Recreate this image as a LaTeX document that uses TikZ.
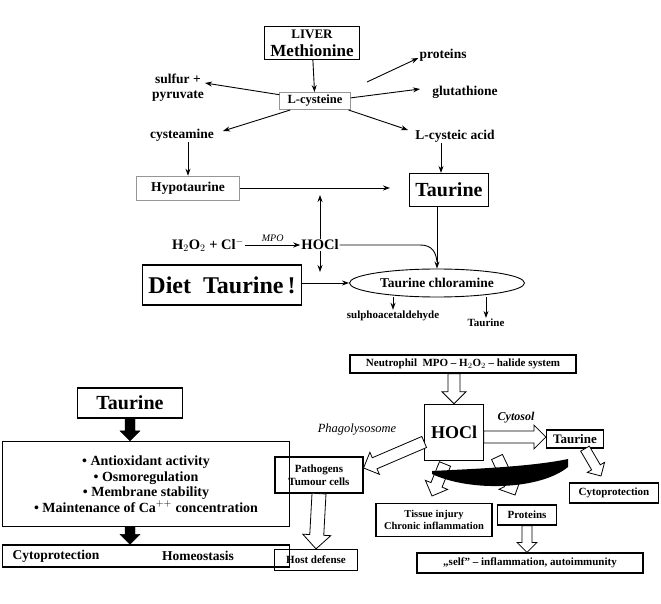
\documentclass[tikz,border=0pt]{standalone}
\usepackage{fontspec}
\setmainfont{Liberation Serif}
\usetikzlibrary{calc,shapes.geometric,arrows.meta}

\definecolor{boxgray}{RGB}{150,150,150}

\tikzset{
  lbl/.style={font=\bfseries\fontsize{13.5}{15}\selectfont, align=center, inner sep=1pt},
  small/.style={font=\bfseries\fontsize{11}{12.5}\selectfont},
  thinbox/.style={lbl, draw, line width=0.6pt, inner xsep=6pt, inner ysep=3pt},
  thickbox/.style={lbl, draw, line width=1.2pt, inner xsep=6pt, inner ysep=3pt},
  graybox/.style={lbl, draw=boxgray, line width=0.6pt, inner xsep=8pt, inner ysep=3pt},
  flow/.style={-{Stealth[length=7pt,width=5pt]}, line width=0.9pt},
  hollow/.style={draw, fill=white, line width=0.8pt},
  solid arrow/.style={draw, fill=black}
}

% block arrow from #3 to #4, shaft half-width #2
\newcommand\blockarrow[4][hollow]{%
  \path[#1] let \p1=($(#4)-(#3)$), \n1={atan2(\y1,\x1)}, \n2={veclen(\x1,\y1)} in
    {[shift={(#3)}, rotate=\n1] (0,-#2) -- (\n2-2*#2,-#2) -- (\n2-2*#2,-2*#2) -- (\n2,0)
      -- (\n2-2*#2,2*#2) -- (\n2-2*#2,#2) -- (0,#2) -- cycle};
}

\begin{document}
\begin{tikzpicture}[x=1pt,y=-1pt]
  \useasboundingbox (0,0) rectangle (661,604);

  % liver pathway
  \node[thickbox, font=\bfseries\fontsize{17}{18}\selectfont] (met) at (312,43) {{\fontsize{13}{14}\selectfont LIVER}\\Methionine};
  \node[graybox, font=\bfseries\fontsize{12.5}{14}\selectfont] (cys) at (315,101) {L-cysteine};
  \node[lbl] (prot) at (443,55) {proteins};
  \node[lbl] (glut) at (465,92) {glutathione};
  \node[lbl] (cysac) at (455,136) {L-cysteic acid};
  \node[lbl] (sulf) at (178,88) {sulfur +\\pyruvate};
  \node[lbl] (cysam) at (182,135) {cysteamine};
  \node[graybox, minimum width=103pt, minimum height=24pt] (hypo) at (188,188) {Hypotaurine};
  \node[thickbox, font=\bfseries\fontsize{20}{22}\selectfont, minimum width=78pt, minimum height=33pt] (tau) at (449,190) {Taurine};

  \draw[flow] (met) -- (cys);
  \draw[flow] (cys.170) -- (sulf.east |- 0,83);
  \draw[flow] (cys.200) -- (223,131);
  \draw[flow] (367,82) -- (prot.west |- 0,58);
  \draw[flow] (cys.5) -- (420,89);
  \draw[flow] (cys.345) -- (408,130);
  \draw[flow] (cysam.south -| hypo) -- (hypo);
  \draw[flow] (cysac.south -| 441,0) -- (tau.north -| 441,0);
  \draw[flow] (hypo) -- (390,188);

  % HOCl and chloramine
  \node[lbl, font=\bfseries\fontsize{14.5}{16}\selectfont] (hocl) at (320,245) {HOCl};
  \node[lbl, font=\bfseries\fontsize{14.5}{16}\selectfont] (h2o2) at (208,245) {H$_2$O$_2$ + Cl$^{-}$};
  \node[thickbox, font=\bfseries\fontsize{24}{26}\selectfont, minimum width=155pt, minimum height=40pt] (diet) at (222,285) {Diet\ \ Taurine\,!};
  \node[lbl, draw, ellipse, line width=0.9pt, minimum width=175pt, minimum height=28pt] (chlor) at (437,283) {Taurine chloramine};
  \node[lbl, font=\bfseries\fontsize{11}{12}\selectfont] (sulph) at (393,316) {sulphoacetaldehyde};
  \node[lbl, font=\bfseries\fontsize{11}{12}\selectfont] (tau2) at (486,323) {Taurine};

  \draw[flow] (h2o2) -- node[above, font=\itshape\fontsize{10}{11}\selectfont] {MPO} (hocl);
  \draw[flow] (hocl) -- (320,195);
  \draw[flow] (hocl) -- (320,272);
  \draw[flow] (tau.south -| chlor) -- (chlor.north);
  \draw[line width=0.9pt] (hocl.east) -- (420,245) .. controls (432,245) and (436,252) .. (437,262);
  \draw[flow] (diet.east |- 0,283) -- (chlor.west);
  \draw[flow] (chlor.south -| sulph) -- (sulph.north);
  \draw[flow] (chlor.south -| tau2) -- (tau2.north);

  % taurine functions
  \node[thickbox, font=\bfseries\fontsize{20}{22}\selectfont, minimum width=105pt, minimum height=30pt] (ftau) at (130,403) {Taurine};
  \node[thinbox, minimum width=287pt, minimum height=85pt, line width=1.2pt, font=\bfseries\fontsize{14}{15.5}\selectfont] (func) at (146,484)
    {\textbullet\ Antioxidant activity\\ \textbullet\ Osmoregulation\\ \textbullet\ Membrane stability\\ \textbullet\ Maintenance of Ca$^{++}$ concentration};
  \node[thickbox, minimum width=287pt, minimum height=22pt] (res) at (146,556) {};
  \node[lbl] (cytp) at (56,556) {Cytoprotection};
  \node[lbl] (homeo) at (198,556) {Homeostasis};
  \blockarrow[solid arrow]{5}{ftau.south}{func.north -| ftau}
  \blockarrow[solid arrow]{5}{func.south -| ftau}{res.north -| ftau}

  % neutrophil system
  \node[thinbox, small, line width=1.2pt, minimum width=226pt, minimum height=18pt, inner ysep=1pt] (neut) at (463,364) {Neutrophil\ \ MPO -- H$_2$O$_2$ -- halide system};
  \node[thinbox, font=\bfseries\fontsize{18}{20}\selectfont, minimum width=59pt, minimum height=56pt] (bhocl) at (454,432) {HOCl};
  \node[thickbox, font=\bfseries\fontsize{13}{14}\selectfont, minimum width=57pt, minimum height=18pt, inner ysep=1pt] (btau) at (575,439) {Taurine};
  \node[thickbox, small, minimum width=88pt, minimum height=36pt, inner ysep=1pt] (path) at (319,475) {Pathogens\\Tumour cells};
  \node[thickbox, small, minimum width=83pt, minimum height=21pt, inner ysep=1pt] (host) at (316,560) {Host defense};
  \node[thickbox, small, minimum width=89pt, minimum height=20pt, inner ysep=1pt] (bcyt) at (614,493) {Cytoprotection};
  \node[thickbox, minimum width=116pt, minimum height=33pt, inner ysep=1pt, font=\bfseries\fontsize{10.5}{11.5}\selectfont] (tiss) at (434,520) {Tissue injury\\Chronic inflammation};
  \node[thickbox, small, minimum width=59pt, minimum height=20pt, inner ysep=1pt] (bprot) at (527,515) {Proteins};
  \node[thickbox, small, minimum width=226pt, minimum height=20pt, inner ysep=1pt] (self) at (530,563) {,,self'' -- inflammation, autoimmunity};
  \node[font=\bfseries\itshape\fontsize{12}{13}\selectfont] (cytosol) at (516,418) {Cytosol};
  \node[font=\itshape\fontsize{12.5}{13}\selectfont] (phago) at (357,430) {Phagolysosome};

  \coordinate (hA) at (445,464);
  \coordinate (hB) at (432,496);
  \coordinate (pA) at (497,457);
  \coordinate (pB) at (515,495);
  \blockarrow{6}{neut.south -| bhocl}{bhocl.north}
  \blockarrow{6}{bhocl.east |- 0,437}{btau.west |- 0,437}
  \blockarrow{6}{bhocl.west |- 0,442}{path.east |- 0,468}
  \blockarrow{7}{path.south}{host.north}
  \blockarrow{5}{btau.south -| 585,0}{601,476}
  \blockarrow{6}{hA}{hB}
  \blockarrow{6}{pA}{pB}
  \blockarrow{5}{bprot.south}{self.north -| bprot}
  % black crescent
  \fill (432,471) .. controls (470,469) and (530,467) .. (568,459)
    -- (568,467) .. controls (540,490) and (470,492) .. (432,474) -- cycle;
\end{tikzpicture}
\end{document}
